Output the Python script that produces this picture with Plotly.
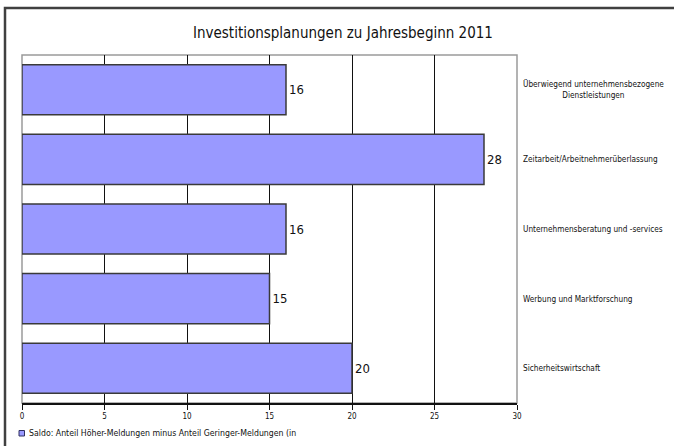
import plotly.graph_objects as go

categories = [
    "Überwiegend unternehmensbezogene<br>Dienstleistungen",
    "Zeitarbeit/Arbeitnehmerüberlassung",
    "Unternehmensberatung und -services",
    "Werbung und Marktforschung",
    "Sicherheitswirtschaft",
]
values = [16, 28, 16, 15, 20]
x_ticks = [0, 5, 10, 15, 20, 25, 30]
title_text = "Investitionsplanungen zu Jahresbeginn 2011"
legend_text = "Saldo: Anteil Höher-Meldungen minus Anteil Geringer-Meldungen (in"

W, H = 674, 446
L, R, T, B = 22, 157, 55, 43
pw, ph = W - L - R, H - T - B

def px(x):
    return (x - L) / pw

def py(y):
    return (H - B - y) / ph

narrow = "Liberation Sans Narrow, DejaVu Sans Condensed, Arial Narrow, sans-serif"
bar_color = "#9999FF"

fig = go.Figure()
fig.add_trace(go.Bar(
    y=list(range(len(categories))),
    x=values,
    orientation="h",
    width=0.72,
    marker=dict(color=bar_color, line=dict(color="#3a3a3a", width=1.5)),
    text=[str(v) for v in values],
    textposition="outside",
    textfont=dict(family=narrow, size=13, color="#111"),
    cliponaxis=False,
    showlegend=False,
    hoverinfo="skip",
))

annotations = []
for i, c in enumerate(categories):
    annotations.append(dict(
        x=1, xref="paper", xshift=4, y=i, yref="y",
        text=c, showarrow=False, xanchor="left", yanchor="middle",
        align="center", font=dict(family=narrow, size=8.2, color="#111"),
    ))
annotations.append(dict(
    x=px(27), xref="paper", y=py(433), yref="paper", text=legend_text,
    showarrow=False, xanchor="left", yanchor="middle",
    font=dict(family=narrow, size=8.7, color="#111"),
))
annotations.append(dict(
    x=px(343), xref="paper", y=py(33), yref="paper", text=title_text,
    showarrow=False, xanchor="center", yanchor="middle",
    font=dict(family=narrow, size=15, color="#111"),
))

shapes = [
    # outer frame
    dict(type="rect", xref="paper", yref="paper", x0=px(5), x1=1.6, y0=-0.5, y1=py(8),
         line=dict(color="#404040", width=2.5), layer="below"),
    # plot area border
    dict(type="rect", xref="paper", yref="paper", x0=0, x1=1, y0=0, y1=1,
         line=dict(color="#9a9a9a", width=1.5), layer="below"),
    # legend swatch
    dict(type="rect", xref="paper", yref="paper", x0=px(19), x1=px(24.5), y0=py(436), y1=py(430.5),
         fillcolor=bar_color, line=dict(color="#303060", width=1)),
]

fig.update_layout(
    width=W, height=H,
    margin=dict(l=L, r=R, t=T, b=B),
    paper_bgcolor="white", plot_bgcolor="white",
    bargap=0.28,
    annotations=annotations,
    shapes=shapes,
    xaxis=dict(
        range=[0, 30], tickvals=x_ticks, ticktext=[str(t) for t in x_ticks],
        showgrid=True, gridcolor="#111", gridwidth=1,
        showline=True, linecolor="#111", linewidth=1.5,
        ticks="outside", ticklen=5, tickcolor="#111",
        tickfont=dict(family=narrow, size=8, color="#111"),
        zeroline=False, fixedrange=True,
    ),
    yaxis=dict(
        range=[len(categories) - 0.5, -0.5],
        showticklabels=False, showgrid=False, zeroline=False,
        showline=False, ticks="", fixedrange=True,
    ),
)

fig.write_html(
    "out.html",
    config={"displayModeBar": False, "staticPlot": True},
    post_script="document.body.style.margin='0';document.body.style.overflow='hidden';",
)
